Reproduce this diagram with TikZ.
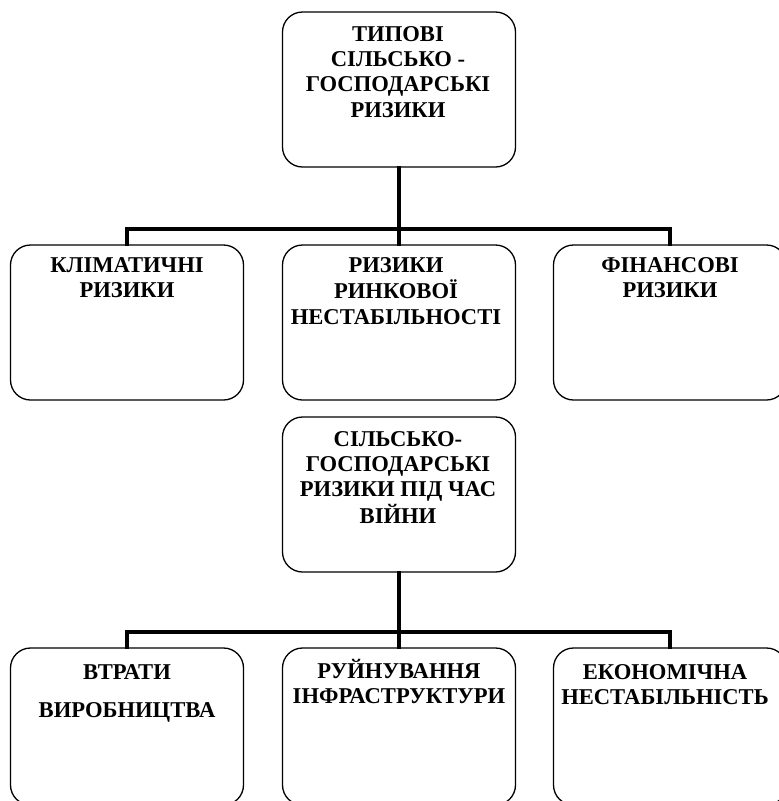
\documentclass[tikz,border=0pt]{standalone}
\usepackage{fontspec}
\setmainfont{Liberation Serif}
\usetikzlibrary{calc}
\newcommand\mytxt[1]{\begin{tabular}[t]{@{}c@{}}#1\end{tabular}}
\tikzset{
  box/.style={draw, rounded corners=20pt, line width=1.3pt, minimum width=233pt, minimum height=155pt, inner sep=0pt},
  lbl/.style={anchor=base, inner sep=0pt, font=\fontsize{22.6}{25.3}\selectfont\bfseries},
  conn/.style={line width=3.8pt, line join=miter, line cap=rect}
}
\begin{document}
\begin{tikzpicture}[x=1pt,y=-1pt]
\useasboundingbox (0,0) rectangle (779,801);
% boxes
\node[box] (t) at (399,89.5) {};
\node[box] (a) at (127,322.5) {};
\node[box] (b) at (399,322.5) {};
\node[box] (c) at (670,322.5) {};
\node[box] (w) at (399,494.5) {};
\node[box, minimum height=157pt] (d) at (127,726.5) {};
\node[box, minimum height=157pt] (e) at (399,726.5) {};
\node[box, minimum height=157pt] (f) at (670,726.5) {};
% labels
\node[lbl] (tl) at ($(t.north)+(-1,30)$) {\mytxt{ТИПОВІ\\СІЛЬСЬКО -\\ГОСПОДАРСЬКІ\\РИЗИКИ}};
\node[lbl] (al) at ($(a.north)+(0,28)$) {\mytxt{КЛІМАТИЧНІ\\РИЗИКИ}};
\node[lbl] (bl) at ($(b.north)+(-3,28)$) {\mytxt{РИЗИКИ\\РИНКОВОЇ\\НЕСТАБІЛЬНОСТІ}};
\node[lbl] (cl) at ($(c.north)+(0,28)$) {\mytxt{ФІНАНСОВІ\\РИЗИКИ}};
\node[lbl] (wl) at ($(w.north)+(-1,30)$) {\mytxt{СІЛЬСЬКО-\\ГОСПОДАРСЬКІ\\РИЗИКИ ПІД ЧАС\\ВІЙНИ}};
\node[lbl] (dl) at ($(d.north)+(0,32)$) {\mytxt{ВТРАТИ\\[12.7pt]ВИРОБНИЦТВА}};
\node[lbl] (el) at ($(e.north)+(0,31)$) {\mytxt{РУЙНУВАННЯ\\ІНФРАСТРУКТУРИ}};
\node[lbl] (fl) at ($(f.north)+(-5,32)$) {\mytxt{ЕКОНОМІЧНА\\НЕСТАБІЛЬНІСТЬ}};
% connectors
\coordinate (j1) at (399,229);
\coordinate (j2) at (399,632);
\draw[conn] (t.south) -- (j1);
\draw[conn] (a.north) |- (j1) -| (c.north);
\draw[conn] (j1) -- (b.north);
\draw[conn] (w.south) -- (j2);
\draw[conn] (d.north) |- (j2) -| (f.north);
\draw[conn] (j2) -- (e.north);
\end{tikzpicture}
\end{document}
